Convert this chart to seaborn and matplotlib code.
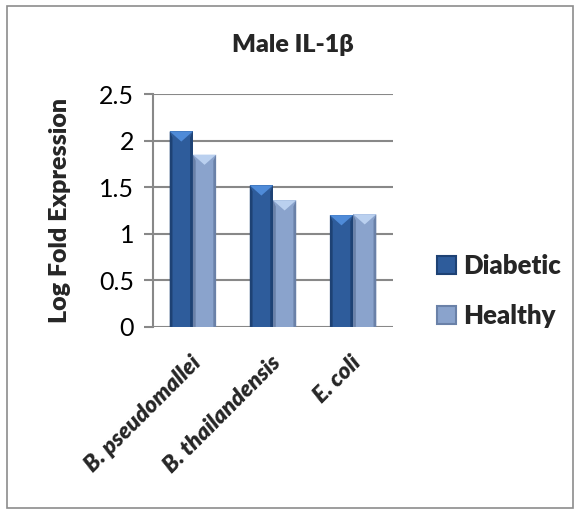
import matplotlib
matplotlib.use("Agg")
import matplotlib.pyplot as plt
import matplotlib.transforms as mtransforms
import seaborn as sns
import pandas as pd
from matplotlib.patches import Polygon, Rectangle, Patch

categories = ["B. pseudomallei", "B. thailandensis", "E. coli"]
groups = ["Diabetic", "Healthy"]
diabetic = [2.1, 1.52, 1.2]
healthy = [1.85, 1.36, 1.21]
yticks = [0, 0.5, 1, 1.5, 2, 2.5]
ytick_labels = ["0", "0.5", "1", "1.5", "2", "2.5"]

df = pd.DataFrame({
    "organism": categories * 2,
    "group": [groups[0]] * 3 + [groups[1]] * 3,
    "value": diabetic + healthy,
})

# face, side shade, top highlight
palette = {"Diabetic": "#2e5c9b", "Healthy": "#8aa3cc"}
shade = {"Diabetic": "#1e4274", "Healthy": "#6a81a8"}
light = {"Diabetic": "#4f8bd8", "Healthy": "#bad0ef"}
grey = "#888888"
heavy = "heavy"

sns.set_theme(style="white")
plt.rcParams["font.family"] = ["Lato", "DejaVu Sans"]

fig = plt.figure(figsize=(5.79, 5.14), dpi=100)
ax = fig.add_axes([0.264, 0.364, 0.415, 0.453])

sns.barplot(data=df, x="organism", y="value", hue="group", order=categories,
            hue_order=groups, palette=palette, width=0.58, saturation=1,
            edgecolor="none", legend=False, ax=ax, zorder=3)

ax.set_ylim(0, 2.5)
ax.set_xlim(-0.5, 2.5)

# bevelled look for each bar
for i, bar in enumerate(ax.patches):
    g = groups[i // 3]
    x, w, h = bar.get_x(), bar.get_width(), bar.get_height()
    s = 0.12 * w
    d = 0.11
    ax.add_patch(Polygon([(x, 0), (x + s, 0), (x + s, h - d * 0.6), (x, h)],
                         closed=True, color=shade[g], lw=0, zorder=4))
    ax.add_patch(Polygon([(x + w - s, 0), (x + w, 0), (x + w, h), (x + w - s, h - d * 0.6)],
                         closed=True, color=shade[g], lw=0, zorder=4))
    ax.add_patch(Polygon([(x, h), (x + w, h), (x + w / 2, h - d)],
                         closed=True, color=light[g], lw=0, zorder=5))

ax.set_yticks(yticks)
ax.set_yticklabels(ytick_labels, fontsize=18)
ax.grid(axis="y", color=grey, lw=1.5, zorder=0)
ax.grid(axis="x", visible=False)
for side in ["top", "right", "bottom"]:
    ax.spines[side].set_visible(False)
ax.spines["left"].set_color(grey)
ax.spines["left"].set_linewidth(1.5)
ax.tick_params(axis="y", which="both", left=True, length=6.5, width=1.5,
               color=grey, pad=7, labelcolor="black")
ax.tick_params(axis="x", length=0, pad=0)

ax.set_xlabel("")
ax.set_ylabel("Log Fold Expression", fontsize=18, fontweight=heavy, labelpad=20)
ax.set_xticks(range(len(categories)))
ax.set_xticklabels(categories, rotation=45, ha="right", va="top",
                   rotation_mode="anchor", fontsize=16.5, fontweight=heavy,
                   fontstyle="italic")
shift = mtransforms.ScaledTranslation(-2 / 72, -18 / 72, fig.dpi_scale_trans)
for lab in ax.get_xticklabels():
    lab.set_transform(lab.get_transform() + shift)

fig.text(0.505, 0.912, "Male IL-1β", ha="center", va="center",
         fontsize=18, fontweight=heavy)

handles = [Patch(facecolor=palette[g], edgecolor=shade[g], lw=1.5) for g in groups]
fig.legend(handles, groups, loc="center left", bbox_to_anchor=(0.737, 0.434),
           frameon=False, handlelength=0.72, handleheight=0.72,
           handletextpad=0.3, labelspacing=1.0, borderaxespad=0,
           prop={"size": 18.5, "weight": heavy})

fig.patches.append(Rectangle((0.012, 0.012), 0.978, 0.976, transform=fig.transFigure,
                             fill=False, edgecolor="#8c8c8c", lw=1.2))

fig.savefig("out.png", dpi=100)
